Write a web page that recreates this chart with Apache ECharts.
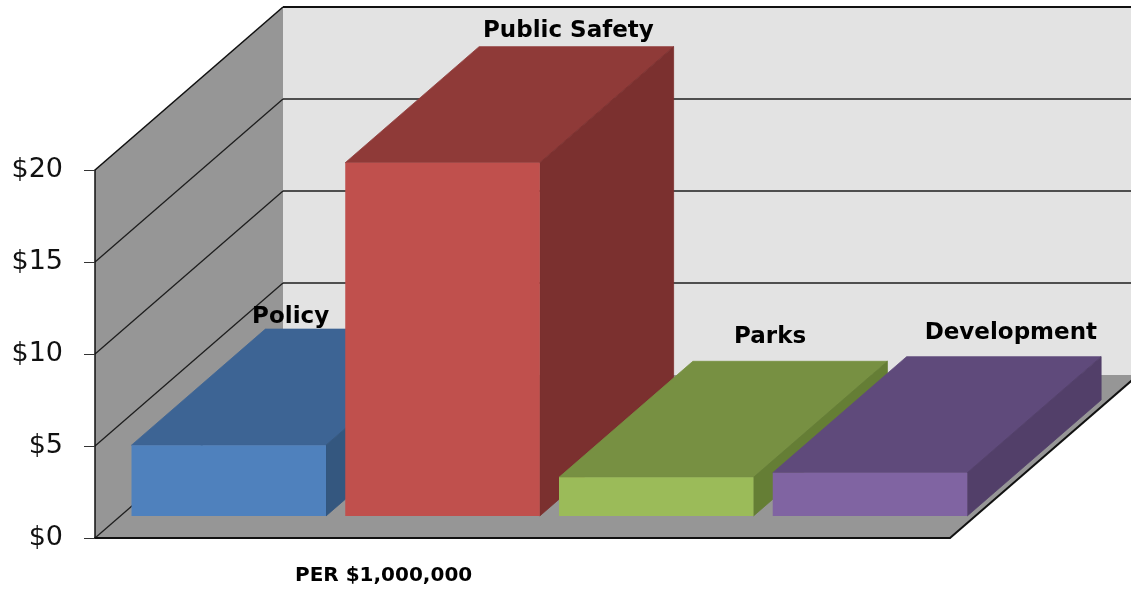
<!DOCTYPE html>
<html><head><meta charset="utf-8">
<script src="https://cdn.jsdelivr.net/npm/echarts@6/dist/echarts.min.js"></script>
<style>html,body{margin:0;padding:0;background:#fff}#c{width:1131px;height:590px}</style>
</head><body><div id="c"></div>
<script>
// ---- data ----
const categories = ['Policy', 'Public Safety', 'Parks', 'Development'];
const values = [3.85, 19.2, 2.1, 2.35];
const yTicks = [0, 5, 10, 15, 20];
const yTickLabels = ['$0', '$5', '$10', '$15', '$20'];
const axisTitle = 'PER $1,000,000';

// ---- styling / projection ----
const DEPTH = { dx: 188, dy: -163 };
const BAR_Z0 = 0.135, BAR_Z1 = 0.847, BAR_FRAC = 0.91;
const faceColors = [
  { front: '#4f81bd', top: '#3d6494', side: '#34577f' },
  { front: '#c0504d', top: '#8f3a38', side: '#7b302f' },
  { front: '#9bbb59', top: '#779042', side: '#657e35' },
  { front: '#8064a2', top: '#5f4a7b', side: '#523f69' }
];
const labelShift = [[-72, 12], [-8, 16], [-20, 24], [7, 24]];
const yMax = yTicks[yTicks.length - 1];

const chart = echarts.init(document.getElementById('c'), null, { renderer: 'canvas' });

function renderWalls(params, api) {
  const cs = params.coordSys;
  const xl = cs.x, xr = cs.x + cs.width;
  const y0 = api.coord([0, 0])[1];
  const yT = api.coord([0, yMax])[1];
  const dx = DEPTH.dx, dy = DEPTH.dy;
  const ch = [];
  ch.push({ type: 'polygon', shape: { points: [[xl + dx, yT + dy], [xr + dx + 20, yT + dy], [xr + dx + 20, y0 + dy], [xl + dx, y0 + dy]] }, style: { fill: '#e3e3e3' } });
  ch.push({ type: 'polygon', shape: { points: [[xl, y0], [xl, yT], [xl + dx, yT + dy], [xl + dx, y0 + dy]] }, style: { fill: '#969696' } });
  ch.push({ type: 'polygon', shape: { points: [[xl, y0], [xr, y0], [xr + dx, y0 + dy], [xl + dx, y0 + dy]] }, style: { fill: '#969696' } });
  yTicks.forEach(v => {
    const y = api.coord([0, v])[1];
    if (v < yMax) {
      ch.push({ type: 'line', shape: { x1: xl, y1: y, x2: xl + dx, y2: y + dy }, style: { stroke: '#1e1e1e', lineWidth: 1.3 } });
    }
    if (v > 0 && v < yMax) {
      ch.push({ type: 'line', shape: { x1: xl + dx, y1: y + dy, x2: xr + dx + 20, y2: y + dy }, style: { stroke: '#1e1e1e', lineWidth: 1.5 } });
    }
  });
  ch.push({ type: 'line', shape: { x1: xl, y1: yT, x2: xl + dx, y2: yT + dy }, style: { stroke: '#111', lineWidth: 1.6 } });
  ch.push({ type: 'line', shape: { x1: xl + dx, y1: yT + dy, x2: xr + dx + 20, y2: yT + dy }, style: { stroke: '#111', lineWidth: 2 } });
  ch.push({ type: 'line', shape: { x1: xr, y1: y0, x2: xr + dx, y2: y0 + dy }, style: { stroke: '#111', lineWidth: 2 } });
  return { type: 'group', children: ch };
}

function renderBar(params, api) {
  const i = api.value(0), v = api.value(1);
  const base = api.coord([i, 0]);
  const top = api.coord([i, v]);
  const band = api.size([1, 0])[0];
  const w = band * BAR_FRAC;
  const xL = base[0] - w / 2 + 1.5;
  const y0 = base[1], yv = top[1];
  const dx0 = DEPTH.dx * BAR_Z0, dy0 = DEPTH.dy * BAR_Z0;
  const dx1 = DEPTH.dx * BAR_Z1, dy1 = DEPTH.dy * BAR_Z1;
  const c = faceColors[i];
  const fl = xL + dx0, fr = xL + w + dx0;
  const ch = [
    { type: 'polygon', shape: { points: [[fl, yv + dy0], [fr, yv + dy0], [xL + w + dx1, yv + dy1], [xL + dx1, yv + dy1]] }, style: { fill: c.top, stroke: c.top, lineWidth: 0.8, lineJoin: 'miter' } },
    { type: 'polygon', shape: { points: [[fr, yv + dy0], [xL + w + dx1, yv + dy1], [xL + w + dx1, y0 + dy1], [fr, y0 + dy0]] }, style: { fill: c.side, stroke: c.side, lineWidth: 0.8, lineJoin: 'miter' } },
    { type: 'rect', shape: { x: fl, y: yv + dy0, width: w, height: y0 - yv }, style: { fill: c.front } },
    { type: 'text', x: xL + dx1 + w / 2 + labelShift[i][0], y: yv + dy1 - labelShift[i][1],
      style: { text: categories[i], fill: '#000', font: 'bold 23px "DejaVu Sans"', align: 'center', verticalAlign: 'middle' } }
  ];
  return { type: 'group', children: ch };
}

chart.setOption({
  animation: false,
  backgroundColor: '#fff',
  title: { text: axisTitle, left: 295, top: 566, padding: 0,
    textStyle: { fontFamily: 'DejaVu Sans', fontWeight: 'bold', fontSize: 20, color: '#000' } },
  grid: { left: 95, right: 181, top: 170, bottom: 52 },
  xAxis: { type: 'category', data: categories, z: 10,
    axisLine: { show: true, lineStyle: { color: '#111', width: 2 } },
    axisTick: { show: false }, axisLabel: { show: false }, splitLine: { show: false } },
  yAxis: { type: 'value', min: 0, max: yMax, interval: 5, z: 10,
    axisLine: { show: true, lineStyle: { color: '#111', width: 1.5 } },
    axisTick: { show: true, length: 11, lineStyle: { color: '#333', width: 1 } },
    splitLine: { show: false },
    axisLabel: { margin: 32, color: '#111', fontSize: 27, fontFamily: 'DejaVu Sans',
      formatter: v => yTickLabels[yTicks.indexOf(v)] } },
  series: [
    { type: 'custom', name: 'walls', renderItem: renderWalls, data: [[0, 0]], clip: false, z: 1, silent: true },
    { type: 'custom', name: 'bars', renderItem: renderBar, clip: false, z: 3,
      encode: { x: 0, y: 1 }, data: values.map((v, i) => [i, v]) }
  ]
});
</script>
</body></html>
